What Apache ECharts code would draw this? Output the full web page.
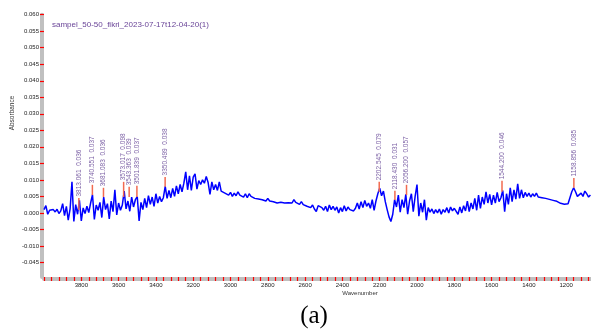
<!DOCTYPE html>
<html><head><meta charset="utf-8">
<script src="https://cdn.jsdelivr.net/npm/echarts@6/dist/echarts.min.js"></script>
<style>html,body{margin:0;padding:0;background:#fff}#c{width:591px;height:332px}</style>
</head><body><div id="c"></div>
<script>
const chartTitle = "sampel_50-50_fikri_2023-07-17t12-04-20(1)";
const xAxisTitle = "Wavenumber";
const yAxisTitle = "Absorbance";
const caption = "(a)";

const wavenumbers = [
4000,3990,3980,3970,3960,3950,3940,3930,3920,3910,
3900,3890,3880,3870,3860,3850,3840,3830,3820,3810,
3800,3790,3780,3770,3760,3750,3740,3730,3720,3710,
3700,3690,3680,3670,3660,3650,3640,3630,3620,3610,
3600,3590,3580,3570,3560,3550,3540,3530,3520,3510,
3500,3490,3480,3470,3460,3450,3440,3430,3420,3410,
3400,3390,3380,3370,3360,3350,3340,3330,3320,3310,
3300,3290,3280,3270,3260,3250,3240,3230,3220,3210,
3200,3190,3180,3170,3160,3150,3140,3130,3120,3110,
3100,3090,3080,3070,3060,3050,3040,3030,3020,3010,
3000,2990,2980,2970,2960,2950,2940,2930,2920,2910,
2900,2890,2880,2870,2860,2850,2840,2830,2820,2810,
2800,2790,2780,2770,2760,2750,2740,2730,2720,2710,
2700,2690,2680,2670,2660,2650,2640,2630,2620,2610,
2600,2590,2580,2570,2560,2550,2540,2530,2520,2510,
2500,2490,2480,2470,2460,2450,2440,2430,2420,2410,
2400,2390,2380,2370,2360,2350,2340,2330,2320,2310,
2300,2290,2280,2270,2260,2250,2240,2230,2220,2210,
2200,2190,2180,2170,2160,2150,2140,2130,2120,2110,
2100,2090,2080,2070,2060,2050,2040,2030,2020,2010,
2000,1990,1980,1970,1960,1950,1940,1930,1920,1910,
1900,1890,1880,1870,1860,1850,1840,1830,1820,1810,
1800,1790,1780,1770,1760,1750,1740,1730,1720,1710,
1700,1690,1680,1670,1660,1650,1640,1630,1620,1610,
1600,1590,1580,1570,1560,1550,1540,1530,1520,1510,
1500,1490,1480,1470,1460,1450,1440,1430,1420,1410,
1400,1390,1380,1370,1360,1350,1340,1330,1320,1310,
1300,1290,1280,1270,1260,1250,1240,1230,1220,1210,
1200,1190,1180,1170,1160,1150,1140,1130,1120,1110,
1100,1090,1080,1070
];

const absorbance = [
0.0010,0.0022,-0.0004,0.0008,0.0002,0.0010,0.0003,0.0011,-0.0002,0.0006,
0.0028,-0.0008,0.0020,-0.0022,0.0012,0.0094,-0.0026,0.0025,-0.0004,0.0038,
-0.0024,0.0015,-0.0002,0.0020,0.0001,0.0030,0.0055,-0.0020,0.0024,0.0008,
0.0032,-0.0014,0.0048,0.0010,0.0028,-0.0018,0.0036,0.0004,0.0070,-0.0006,
0.0030,0.0008,0.0024,0.0066,0.0012,0.0036,0.0005,0.0048,0.0018,0.0040,
0.0049,-0.0024,0.0032,0.0010,0.0044,0.0016,0.0052,0.0026,0.0048,0.0020,
0.0058,0.0030,0.0050,0.0034,0.0046,0.0080,0.0044,0.0068,0.0046,0.0074,
0.0050,0.0082,0.0058,0.0086,0.0064,0.0090,0.0124,0.0070,0.0112,0.0068,
0.0108,0.0118,0.0072,0.0098,0.0086,0.0100,0.0090,0.0110,0.0092,0.0056,
0.0094,0.0070,0.0086,0.0068,0.0094,0.0066,0.0072,0.0060,0.0066,0.0054,
0.0062,0.0050,0.0060,0.0052,0.0064,0.0054,0.0060,0.0048,0.0058,0.0046,
0.0058,0.0050,0.0056,0.0044,0.0050,0.0042,0.0048,0.0040,0.0046,0.0036,
0.0044,0.0036,0.0042,0.0034,0.0040,0.0030,0.0036,0.0032,0.0035,0.0030,
0.0036,0.0031,0.0034,0.0030,0.0040,0.0032,0.0038,0.0026,0.0034,0.0025,
0.0030,0.0020,0.0026,0.0016,0.0024,0.0012,0.0004,0.0022,0.0028,0.0016,
0.0008,0.0020,0.0004,0.0024,0.0010,0.0020,0.0008,0.0018,0.0000,0.0016,
0.0004,0.0022,0.0006,0.0018,0.0010,0.0016,0.0006,0.0014,0.0030,0.0012,
0.0034,0.0016,0.0038,0.0020,0.0030,0.0014,0.0040,0.0008,0.0036,0.0058,
0.0075,0.0052,0.0066,0.0034,0.0010,-0.0012,-0.0026,-0.0004,0.0040,0.0018,
0.0054,0.0002,0.0040,0.0016,0.0056,-0.0004,0.0036,0.0058,0.0004,0.0050,
0.0086,-0.0010,0.0030,0.0002,0.0040,-0.0022,0.0016,0.0002,0.0012,-0.0002,
0.0010,0.0000,0.0012,-0.0004,0.0010,0.0002,0.0016,0.0000,0.0018,0.0006,
0.0014,0.0020,-0.0004,0.0018,0.0000,0.0022,0.0006,0.0036,0.0004,0.0030,
0.0012,0.0044,0.0008,0.0054,0.0014,0.0048,0.0026,0.0064,0.0030,0.0056,
0.0024,0.0054,0.0030,0.0062,0.0034,0.0046,0.0068,0.0004,0.0058,0.0026,
0.0076,0.0034,0.0070,0.0042,0.0088,0.0044,0.0070,0.0046,0.0062,0.0050,
0.0060,0.0048,0.0058,0.0050,0.0060,0.0048,0.0054,0.0046,0.0050,0.0044,
0.0042,0.0041,0.0042,0.0038,0.0037,0.0035,0.0032,0.0029,0.0028,0.0026,
0.0024,0.0028,0.0046,0.0064,0.0076,0.0064,0.0050,0.0056,0.0060,0.0050,
0.0066,0.0058,0.0048,0.0054
];

const peakWavenumbers = [3813.061,3740.551,3681.083,3573.017,3543.363,3501.839,3350.499,2202.545,2118.430,2056.200,1544.200,1158.856];
const peakBase = [0.0009,0.0054,0.0048,0.0048,0.0048,0.0048,0.0079,0.0064,0.0039,0.0054,0.0064,0.0076];
const peakTop  = [0.0045,0.0085,0.0076,0.0094,0.0079,0.0082,0.0109,0.0094,0.0067,0.0085,0.0097,0.0106];
const peakLabels = [
"3813.061  0.036","3740.551  0.037","3681.083  0.036","3573.017  0.098",
"3543.363  0.039","3501.839  0.037","3350.499  0.038","2202.545  0.079",
"2118.430  0.031","2056.200  0.057","1544.200  0.046","1158.856  0.085"
];

const yTickValues = [-0.015,-0.010,-0.005,0,0.005,0.010,0.015,0.020,0.025,0.030,0.035,0.040,0.045,0.050,0.055,0.060];
const yTickLabels = ["-0.045","-0.010","-0.005","0.000","0.005","0.010","0.015","0.020","0.025","0.030","0.035","0.040","0.045","0.050","0.055","0.060"];
const xLabelValues = [3800,3600,3400,3200,3000,2800,2600,2400,2200,2000,1800,1600,1400,1200];
const xTickStep = 40;

const xMin = 1067, xMax = 4000, yMin = -0.0194, yMax = 0.06;
const xTickValues = [];
for (let v = 1080; v <= xMax; v += xTickStep) xTickValues.push(v);

const FONT = '"Liberation Sans", Arial, sans-serif';
const chart = echarts.init(document.getElementById('c'), null, {renderer:'canvas'});

chart.setOption({
  animation: false,
  backgroundColor: '#fff',
  grid: {left: 44, right: 0, top: 14.7, bottom: 55},
  xAxis: [
    {type:'value', min:xMin, max:xMax, inverse:true, position:'bottom', z:4,
     axisLine:{show:false, onZero:false}, splitLine:{show:false},
     axisTick:{show:true, customValues:xTickValues, length:4, lineStyle:{color:'#ff0000', width:1.2}},
     axisLabel:{customValues:xLabelValues, margin:5, fontSize:6, color:'#222', fontFamily:FONT,
       formatter: function(v){ return String(Math.round(v)); }}},
    {type:'value', min:xMin, max:xMax, inverse:true, position:'bottom', offset:2, z:1,
     axisLine:{show:true, onZero:false, lineStyle:{color:'#c0c0c0', width:4}},
     axisTick:{show:false}, axisLabel:{show:false}, splitLine:{show:false}}
  ],
  yAxis: [
    {type:'value', min:yMin, max:yMax, position:'left', z:4,
     axisLine:{show:false, onZero:false}, splitLine:{show:false},
     axisTick:{show:true, customValues:yTickValues, length:4, lineStyle:{color:'#ff0000', width:1.2}},
     axisLabel:{customValues:yTickValues, margin:5, fontSize:6, color:'#222', fontFamily:FONT,
       formatter: function(v){
         for (let k = 0; k < yTickValues.length; k++) if (Math.abs(yTickValues[k]-v) < 1e-9) return yTickLabels[k];
         return '';
       }}},
    {type:'value', min:yMin, max:yMax, position:'left', offset:2, z:1,
     axisLine:{show:true, onZero:false, lineStyle:{color:'#c0c0c0', width:4}},
     axisTick:{show:false}, axisLabel:{show:false}, splitLine:{show:false}}
  ],
  series: [
    {type:'line', xAxisIndex:0, yAxisIndex:0, showSymbol:false, symbol:'none',
     data: wavenumbers.map((w,i)=>[w, absorbance[i]]),
     lineStyle:{color:'#0000ff', width:1.5}, z:2},
    {type:'custom', xAxisIndex:0, yAxisIndex:0, z:3,
     data: peakWavenumbers.map((w,i)=>[w, peakBase[i], peakTop[i], i]),
     encode:{x:0, y:[1,2]},
     renderItem: function(params, api){
       const i = api.value(3);
       const p0 = api.coord([api.value(0), api.value(1)]);
       const p1 = api.coord([api.value(0), api.value(2)]);
       return {type:'group', children:[
         {type:'line', shape:{x1:p0[0], y1:p0[1], x2:p1[0], y2:p1[1]}, style:{stroke:'#f26a4f', lineWidth:1.5}},
         {type:'text', x:p1[0], y:p1[1]-1.5, rotation:Math.PI/2,
          style:{text:peakLabels[i], fill:'#7d62a6', font:'6.5px ' + FONT, align:'left', verticalAlign:'middle'}}
       ]};
     }}
  ],
  graphic: [
    {type:'text', x:52, y:25, style:{text:chartTitle, fill:'#6a4598', font:'8px ' + FONT, align:'left', verticalAlign:'middle'}},
    {type:'text', x:12, y:113, rotation:Math.PI/2, style:{text:yAxisTitle, fill:'#333', font:'6.5px ' + FONT, align:'center', verticalAlign:'middle'}},
    {type:'text', x:360, y:293, style:{text:xAxisTitle, fill:'#333', font:'6px ' + FONT, align:'center', verticalAlign:'middle'}},
    {type:'text', x:314, y:316, style:{text:caption, fill:'#000', font:'25px "Liberation Serif", "Times New Roman", serif', align:'center', verticalAlign:'middle'}}
  ]
});
</script></body></html>
